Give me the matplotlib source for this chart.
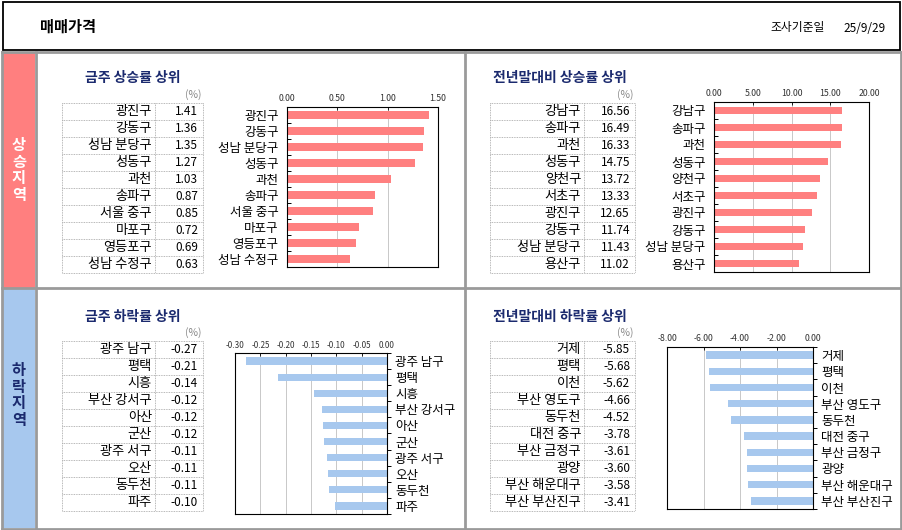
import matplotlib
matplotlib.use('Agg')
import matplotlib.pyplot as plt
from matplotlib.patches import Rectangle
import numpy as np

plt.rcParams['font.family'] = ['Noto Sans CJK KR', 'DejaVu Sans']
plt.rcParams['axes.unicode_minus'] = True

W, H = 902, 530

# data
up_week_names = ['광진구', '강동구', '성남 분당구', '성동구', '과천', '송파구', '서울 중구', '마포구', '영등포구', '성남 수정구']
up_week_vals = [1.41, 1.36, 1.35, 1.27, 1.03, 0.87, 0.85, 0.72, 0.69, 0.63]

up_year_names = ['강남구', '송파구', '과천', '성동구', '양천구', '서초구', '광진구', '강동구', '성남 분당구', '용산구']
up_year_vals = [16.56, 16.49, 16.33, 14.75, 13.72, 13.33, 12.65, 11.74, 11.43, 11.02]

down_week_names = ['광주 남구', '평택', '시흥', '부산 강서구', '아산', '군산', '광주 서구', '오산', '동두천', '파주']
down_week_vals = [-0.27, -0.21, -0.14, -0.12, -0.12, -0.12, -0.11, -0.11, -0.11, -0.10]
# bar lengths slightly differ from rounded table values
down_week_bars = [-0.278, -0.216, -0.144, -0.128, -0.126, -0.124, -0.118, -0.116, -0.114, -0.102]

down_year_names = ['거제', '평택', '이천', '부산 영도구', '동두천', '대전 중구', '부산 금정구', '광양', '부산 해운대구', '부산 부산진구']
down_year_vals = [-5.85, -5.68, -5.62, -4.66, -4.52, -3.78, -3.61, -3.60, -3.58, -3.41]

RED = '#FF8080'
BLUE = '#A7C8EE'
NAVY = '#1B2A6E'
GRID = '#c8c8c8'

fig = plt.figure(figsize=(W / 100, H / 100), dpi=100)
bg = fig.add_axes([0, 0, 1, 1])
bg.set_xlim(0, W)
bg.set_ylim(H, 0)
bg.axis('off')


def px_axes(x0, y0, x1, y1):
    return fig.add_axes([x0 / W, 1 - y1 / H, (x1 - x0) / W, (y1 - y0) / H])


# header
bg.add_patch(Rectangle((3, 2), 897, 48, fill=False, ec='black', lw=1.3))
bg.text(40, 27, '매매가격', fontsize=11, fontweight='bold', va='center')
bg.text(770, 28, '조사기준일', fontsize=8.5, va='center')
bg.text(843, 28, '25/9/29', fontsize=8.5, va='center')

# side strips
bg.add_patch(Rectangle((3, 53), 32, 235, fc='#FF7F7F', ec='none'))
bg.add_patch(Rectangle((3, 289), 32, 239, fc=BLUE, ec='none'))
bg.text(19, 170, '상\n승\n지\n역', color='white', fontsize=11, fontweight='bold',
        ha='center', va='center', linespacing=1.05)
bg.text(19, 395, '하\n락\n지\n역', color=NAVY, fontsize=11, fontweight='bold',
        ha='center', va='center', linespacing=1.05)

# frame lines
gc = '#9a9a9a'
bg.plot([2, 901], [52, 52], color=gc, lw=2)
bg.plot([2, 901], [288, 288], color=gc, lw=2)
bg.plot([2, 901], [528.5, 528.5], color=gc, lw=2)
bg.plot([2, 2], [52, 529], color=gc, lw=2)
bg.plot([36, 36], [52, 529], color=gc, lw=2)
bg.plot([465, 465], [52, 529], color=gc, lw=2)
bg.plot([900.5, 900.5], [52, 529], color=gc, lw=2)


def table(x0, xd, x1, ytop, names, vals, title, tx, ty):
    bg.text(tx, ty, title, color=NAVY, fontsize=10, fontweight='bold', va='center')
    bg.text(x1 - 2, ytop - 8, '(%)', color='#888888', fontsize=7.5, ha='right', va='center')
    rh = 17
    n = len(names)
    for i, (nm, v) in enumerate(zip(names, vals)):
        yc = ytop + rh * (i + 0.5)
        bg.text(xd - 3, yc, nm, fontsize=9.5, ha='right', va='center')
        bg.text(x1 - 5, yc, f'{v:.2f}', fontsize=8.5, ha='right', va='center')
    for i in range(n + 1):
        bg.plot([x0, x1], [ytop + rh * i] * 2, color='#a0a0a0', lw=0.6, ls=(0, (1, 1)))
    for x in (x0, xd, x1):
        bg.plot([x, x], [ytop, ytop + rh * n], color='#a0a0a0', lw=0.6, ls=(0, (1, 1)))


def bars(ax, names, vals, color, xlim, ticks, side):
    y = np.arange(len(names))
    ax.barh(y, vals, height=0.45, color=color, zorder=2)
    ax.set_ylim(len(names) - 0.5, -0.5)
    ax.set_xlim(xlim)
    ax.set_xticks(ticks)
    ax.set_xticklabels([f'{t:.2f}' for t in ticks])
    ax.xaxis.tick_top()
    ax.tick_params(axis='x', direction='in', length=2, labelsize=6.3, pad=3,
                   labelcolor='#333333', width=0.6)
    ax.grid(axis='x', color=GRID, lw=0.7, zorder=0)
    ax.set_axisbelow(True)
    ax.set_yticks(y)
    ax.set_yticklabels(names, fontsize=9)
    ax.set_yticks(np.arange(len(names) + 1) - 0.5, minor=True)
    ax.tick_params(axis='y', which='major', length=0, pad=6)
    ax.tick_params(axis='y', which='minor', length=3, direction='in', width=0.7)
    if side == 'right':
        ax.yaxis.tick_right()
        ax.tick_params(axis='y', which='minor', direction='out')
    for s in ax.spines.values():
        s.set_linewidth(0.8)
        s.set_color('black')


# top-left
table(62, 155, 203, 103, up_week_names, up_week_vals, '금주 상승률 상위', 85, 78)
ax1 = px_axes(287, 107, 438, 267)
bars(ax1, up_week_names, up_week_vals, RED, (0, 1.5), [0, 0.5, 1.0, 1.5], 'left')

# top-right
table(490, 584, 635, 103, up_year_names, up_year_vals, '전년말대비 상승률 상위', 493, 78)
ax2 = px_axes(714, 102, 869, 272)
bars(ax2, up_year_names, up_year_vals, RED, (0, 20), [0, 5, 10, 15, 20], 'left')

# bottom-left
table(62, 155, 203, 341, down_week_names, down_week_vals, '금주 하락률 상위', 85, 317)
ax3 = px_axes(235, 353, 387, 514)
bars(ax3, down_week_names, down_week_bars, BLUE, (-0.30, 0),
     [-0.30, -0.25, -0.20, -0.15, -0.10, -0.05, 0.0], 'right')
ax3.tick_params(axis='x', labelsize=5.8, pad=2)

# bottom-right
table(490, 584, 635, 341, down_year_names, down_year_vals, '전년말대비 하락률 상위', 493, 317)
ax4 = px_axes(667, 347, 813, 509)
bars(ax4, down_year_names, down_year_vals, BLUE, (-8, 0), [-8, -6, -4, -2, 0], 'right')

fig.savefig('out.png', dpi=100)
